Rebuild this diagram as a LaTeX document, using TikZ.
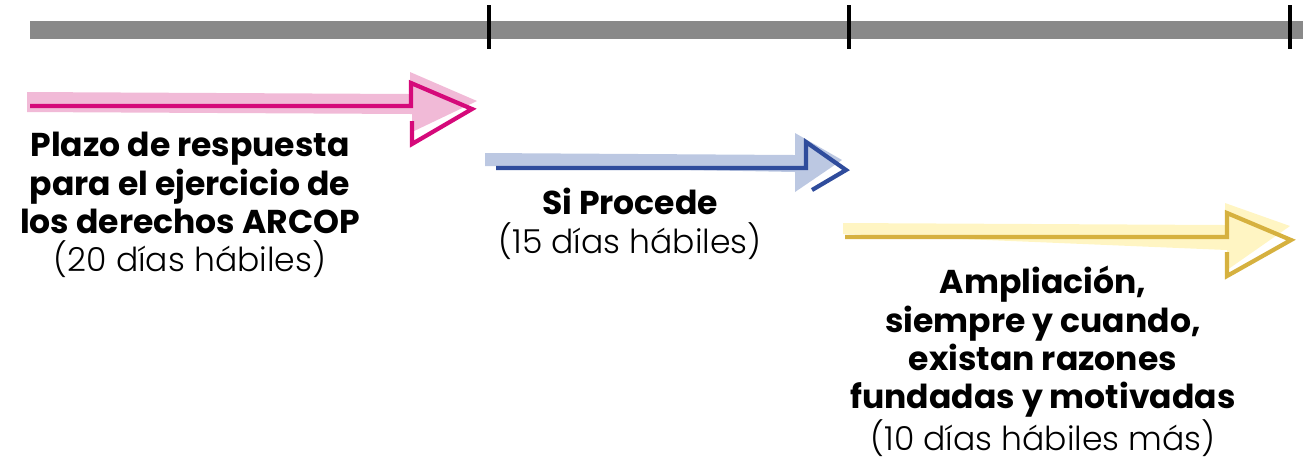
\documentclass[tikz,border=0pt]{standalone}
\usepackage{fontspec}
\setmainfont{Poppins}
\newfontfamily\ligera{Poppins Light}
\usepackage{tikz}

\definecolor{gris}{HTML}{898989}
\definecolor{magenta}{HTML}{D5097A}
\definecolor{rosa}{HTML}{F0B3D3}
\definecolor{azul}{HTML}{2F4C9C}
\definecolor{celeste}{HTML}{B5C2DF}
\definecolor{oro}{HTML}{D6B13F}
\definecolor{crema}{HTML}{FFF4BD}

\begin{document}
\begin{tikzpicture}[x=0.02cm,y=-0.02cm,
    texto/.style={align=center,inner sep=0pt,anchor=north,font=\fontsize{18.8}{21.8}\selectfont},
    contorno/.style={line width=2.4pt,line join=miter},
    sombra/.style={opacity=0.9}]
      \useasboundingbox (0,0) rectangle (1310,458);
      % Linea de tiempo
      \fill[gris] (30,21) rectangle (1303,39);
      \foreach \x in {489,849,1290}
        \draw[line width=2.2pt] (\x,5) -- (\x,49);
      % Flecha 1
      \fill[rosa,sombra] (27,92) -- (410,94) -- (410,72) -- (477,101) -- (412,132) -- (412,114) -- (27,112) -- cycle;
      \draw[magenta,contorno] (30,106) -- (411,106) -- (411,83) -- (472,109) -- (412,144) -- (412,121);
      % Flecha 2
      \fill[celeste,sombra] (485,153) -- (795,155) -- (795,133) -- (842,160) -- (795,192) -- (795,172) -- (485,166) -- cycle;
      \draw[azul,contorno] (496,168) -- (806,168) -- (806,142) -- (846,170) -- (812,190);
      % Flecha 3
      \fill[crema,sombra] (843,223) -- (1225,225) -- (1225,203) -- (1290,226) -- (1227,270) -- (1227,250) -- (843,234) -- cycle;
      \draw[oro,contorno] (845,237) -- (1227,237) -- (1227,213) -- (1291,240) -- (1227,276) -- (1227,252);
      % Textos
      \node[texto] (plazo) at (190,132) {\bfseries Plazo de respuesta\\ \bfseries para el ejercicio de\\ \bfseries los derechos ARCOP\\ {\ligera (20 días hábiles)}};
      \node[texto] (procede) at (630,188) {\bfseries Si Procede\\ {\ligera (15 días hábiles)}};
      \node[texto] (ampliacion) at (1043,266) {\bfseries Ampliación,\\ \bfseries siempre y cuando,\\ \bfseries existan razones\\ \bfseries fundadas y motivadas\\ {\ligera (10 días hábiles más)}};
\end{tikzpicture}
\end{document}
